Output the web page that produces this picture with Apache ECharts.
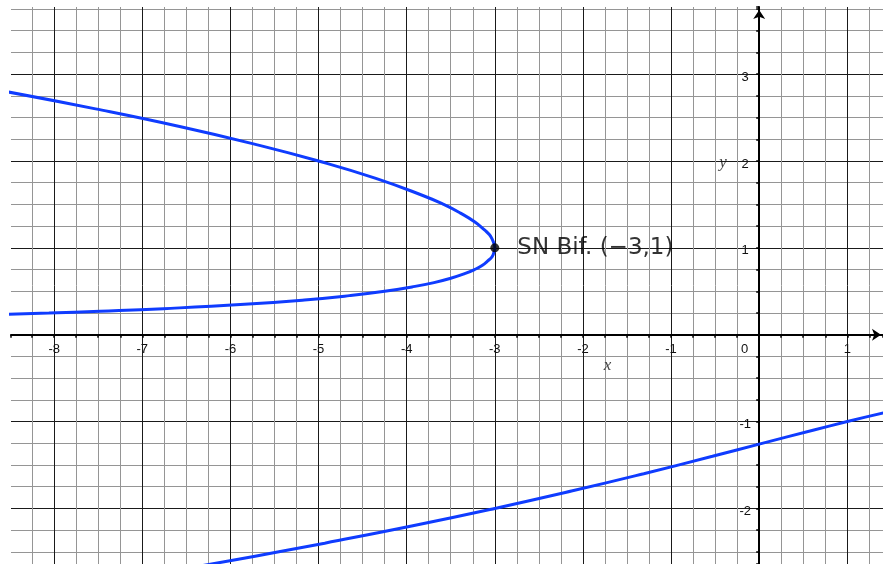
<!DOCTYPE html>
<html>
<head>
<meta charset="utf-8">
<style>
  html, body { margin: 0; padding: 0; background: #fff; }
  #chart { width: 883px; height: 564px; }
</style>
<script src="https://cdn.jsdelivr.net/npm/echarts@6/dist/echarts.min.js"></script>
</head>
<body>
<div id="chart"></div>
<script>
// Fold of equilibria: upper branch down through the nose at (-3, 1) to the lower branch, as [x, y]
const foldBranch = [
  [-8.55, 2.80], [-7.53, 2.60], [-6.59, 2.40], [-5.75, 2.20], [-5.00, 2.00],
  [-4.35, 1.80], [-3.81, 1.60], [-3.58, 1.50], [-3.39, 1.40], [-3.23, 1.30],
  [-3.11, 1.20], [-3.06, 1.15], [-3.03, 1.10], [-3.01, 1.05], [-3.00, 1.00],
  [-3.01, 0.95], [-3.03, 0.90], [-3.08, 0.85], [-3.14, 0.80], [-3.23, 0.75],
  [-3.35, 0.70], [-3.50, 0.65], [-3.69, 0.60], [-3.94, 0.55], [-4.25, 0.50],
  [-4.65, 0.45], [-5.16, 0.40], [-5.84, 0.35], [-6.76, 0.30], [-7.48, 0.27],
  [-8.06, 0.25], [-8.75, 0.23]
];
// Separate negative branch, as [x, y]
const lowerBranch = [
  [-6.55, -2.70], [-5.99, -2.60], [-5.45, -2.50], [-4.93, -2.40], [-3.93, -2.20],
  [-3.00, -2.00], [-2.13, -1.80], [-1.31, -1.60], [-0.53, -1.40], [0.00, -1.26],
  [0.61, -1.10], [1.00, -1.00], [1.41, -0.90], [1.50, -0.88]
];
// Saddle-node point and its name
const bifPoint = [-3, 1];
const bifName = 'SN Bif.';
// Visible window of the plane
const xRange = [-8.49, 1.405];
const yRange = [-2.64, 3.773];
// Axis letters placed in the plane
const axisLetters = [
  { text: 'x', at: [-1.72, -0.35] },
  { text: 'y', at: [-0.41, 1.98] }
];

const minusSign = v => (v < 0 ? '\u2212' + Math.abs(v) : String(v));
const bifText = bifName + ' (' + minusSign(bifPoint[0]) + ',' + minusSign(bifPoint[1]) + ')';

const W = 883, H = 564;
const gridBox = { left: 11, top: 7, right: 0, bottom: 0 };
const plotW = W - gridBox.left - gridBox.right;
const plotH = H - gridBox.top - gridBox.bottom;
// Shift each axis from the plot edge onto the other axis' zero
const xAxisShift = -plotH * (0 - yRange[0]) / (yRange[1] - yRange[0]);
const yAxisShift = -plotW * (0 - xRange[0]) / (xRange[1] - xRange[0]);

const curveColor = '#0f3cff';
const majorColor = '#1a1a1a';
const minorColor = '#959595';
const labelFont = { fontFamily: '"Liberation Sans", Arial, sans-serif', fontSize: 13, color: '#111' };

const chart = echarts.init(document.getElementById('chart'), null, { renderer: 'canvas' });

const baseAxis = {
  type: 'value',
  minInterval: 1,
  maxInterval: 1,
  axisLine: {
    show: true,
    onZero: false,
    symbol: ['none', 'arrow'],
    symbolSize: [9, 9],
    lineStyle: { color: '#000', width: 2 }
  },
  axisTick: { show: true, length: 3, lineStyle: { color: '#000', width: 1.5 } },
  minorTick: { show: true, splitNumber: 4, length: 3, lineStyle: { color: '#000', width: 1.5 } },
  splitLine: { show: true, showMinLine: false, showMaxLine: false, lineStyle: { color: majorColor, width: 1 } },
  minorSplitLine: { show: true, lineStyle: { color: minorColor, width: 1 } }
};

chart.setOption({
  animation: false,
  backgroundColor: '#fff',
  grid: Object.assign({ containLabel: false, outerBoundsMode: 'none' }, gridBox),
  xAxis: Object.assign({}, baseAxis, {
    position: 'bottom',
    offset: xAxisShift,
    min: xRange[0],
    max: xRange[1],
    axisLine: Object.assign({}, baseAxis.axisLine, { symbolOffset: [0, -2] }),
    axisLabel: Object.assign({}, labelFont, {
      margin: 8,
      formatter: v => {
        if (Math.abs(v - Math.round(v)) > 1e-9) return '';
        return v === 0 ? '{o|0}' : String(v);
      },
      rich: { o: Object.assign({}, labelFont, { padding: [0, 29, 0, 0] }) }
    })
  }),
  yAxis: Object.assign({}, baseAxis, {
    position: 'left',
    offset: yAxisShift,
    min: yRange[0],
    max: yRange[1],
    axisLine: Object.assign({}, baseAxis.axisLine, { symbolOffset: [0, -3] }),
    axisLabel: Object.assign({}, labelFont, {
      margin: 14,
      align: 'center',
      formatter: v => {
        if (Math.abs(v - Math.round(v)) > 1e-9 || v === 0) return '';
        return '{v|' + String(v) + '}';
      },
      rich: { v: Object.assign({}, labelFont, { padding: [6, 0, 0, 0] }) }
    })
  }),
  series: [
    {
      name: 'fold',
      type: 'line',
      data: foldBranch,
      smooth: true,
      showSymbol: false,
      clip: true,
      lineStyle: { color: curveColor, width: 3 },
      z: 3
    },
    {
      name: 'lower',
      type: 'line',
      data: lowerBranch,
      smooth: true,
      showSymbol: false,
      clip: true,
      lineStyle: { color: curveColor, width: 3 },
      z: 3
    },
    {
      name: 'bifurcation',
      type: 'scatter',
      data: [bifPoint],
      symbol: 'circle',
      symbolSize: 9,
      itemStyle: { color: '#000' },
      label: {
        show: true,
        position: 'right',
        distance: 18,
        formatter: () => bifText,
        fontFamily: '"DejaVu Sans", sans-serif',
        fontSize: 23,
        color: '#000'
      },
      z: 5
    },
    {
      name: 'axisLetters',
      type: 'scatter',
      data: axisLetters.map(d => ({ value: d.at, name: d.text })),
      symbolSize: 0,
      silent: true,
      label: {
        show: true,
        position: 'inside',
        formatter: p => p.name,
        fontFamily: '"Liberation Serif", "DejaVu Serif", serif',
        fontStyle: 'italic',
        fontSize: 17,
        color: '#111'
      },
      z: 5
    }
  ]
});
</script>
</body>
</html>
